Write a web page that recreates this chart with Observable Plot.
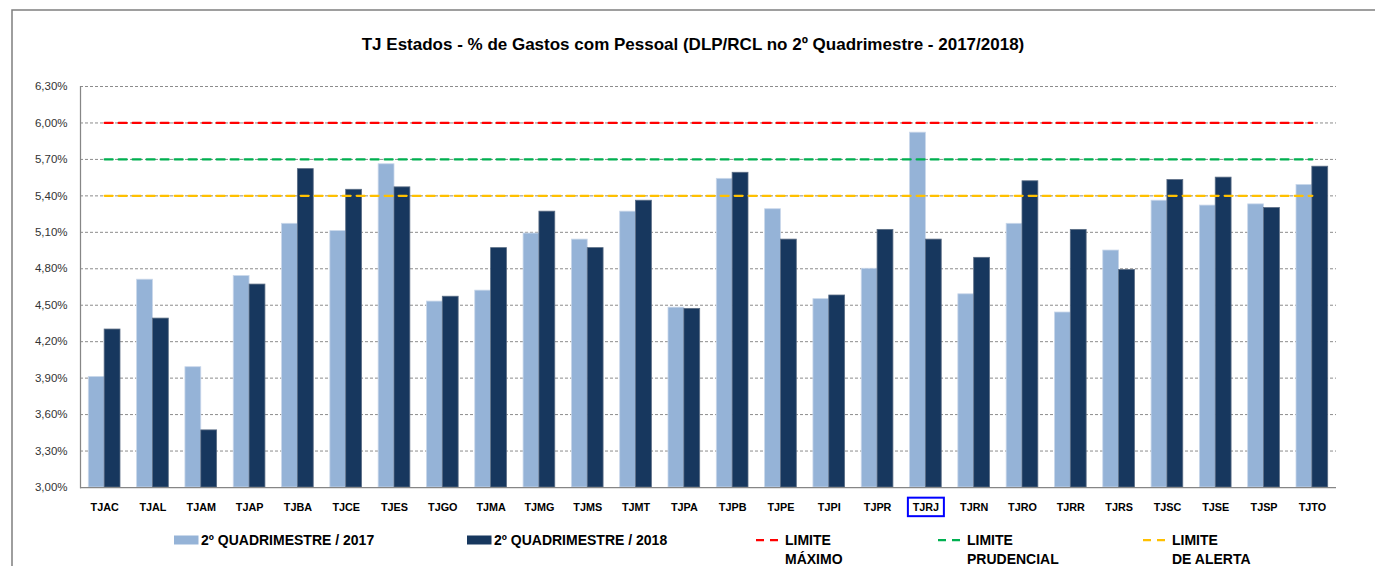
<!DOCTYPE html>
<html>
<head>
<meta charset="utf-8">
<script src="https://cdn.jsdelivr.net/npm/d3@7"></script>
<script src="https://cdn.jsdelivr.net/npm/@observablehq/plot@0.6"></script>
<style>
  body { margin: 0; background: #fff; }
  #wrap { position: relative; width: 1375px; height: 566px; overflow: hidden; background: #fff; }
  #chart { position: absolute; left: 0; top: 70px; }
  #overlay { position: absolute; left: 0; top: 0; pointer-events: none; }
</style>
</head>
<body>
<div id="wrap">
  <div id="chart"></div>
  <svg id="overlay" width="1375" height="566"></svg>
</div>
<script>
// ---------- DATA ----------
const titleText = "TJ Estados - % de Gastos com Pessoal (DLP/RCL no 2º Quadrimestre - 2017/2018)";
const categories = ["TJAC","TJAL","TJAM","TJAP","TJBA","TJCE","TJES","TJGO","TJMA","TJMG","TJMS","TJMT","TJPA",
                    "TJPB","TJPE","TJPI","TJPR","TJRJ","TJRN","TJRO","TJRR","TJRS","TJSC","TJSE","TJSP","TJTO"];
const values2017 = [3.91,4.71,3.99,4.74,5.17,5.11,5.66,4.53,4.62,5.09,5.04,5.27,4.48,
                    5.54,5.29,4.55,4.80,5.92,4.59,5.17,4.44,4.95,5.36,5.32,5.33,5.49];
const values2018 = [4.30,4.39,3.47,4.67,5.62,5.45,5.47,4.57,4.97,5.27,4.97,5.36,4.47,
                    5.59,5.04,4.58,5.12,5.04,4.89,5.52,5.12,4.79,5.53,5.55,5.30,5.64];
const seriesNames = ["2º QUADRIMESTRE / 2017", "2º QUADRIMESTRE / 2018"];
const limitNames = ["LIMITE MÁXIMO", "LIMITE PRUDENCIAL", "LIMITE DE ALERTA"];
const limitValues = [6.00, 5.70, 5.40];
const yTicks = [3.00, 3.30, 3.60, 3.90, 4.20, 4.50, 4.80, 5.10, 5.40, 5.70, 6.00, 6.30];
const highlighted = "TJRJ";

// ---------- STYLE ----------
const barColors = ["#95B3D7", "#17375E"];
const barStrokes = ["#c9d7ea", "#5b6d85"];
const limitColors = ["#FF0000", "#00B050", "#FFC000"];
const FONT = "'Liberation Sans', Arial, sans-serif";

const W = 1375, H = 450, ML = 80, MR = 39, MT = 16, MB = 33;
const bw = (W - ML - MR) / categories.length;
const outer = bw * 0.172, half = bw / 2;

const rows2017 = categories.map((c, i) => ({cat: c, series: seriesNames[0], value: values2017[i]}));
const rows2018 = categories.map((c, i) => ({cat: c, series: seriesNames[1], value: values2018[i]}));
const limitRows = limitNames.flatMap((n, j) => categories.map(c => ({cat: c, name: n, value: limitValues[j]})));

const fmt = d => d.toFixed(2).replace(".", ",") + "%";

const chart = Plot.plot({
  width: W, height: H,
  marginLeft: ML, marginRight: MR, marginTop: MT, marginBottom: MB,
  style: {fontFamily: FONT, background: "transparent", overflow: "visible"},
  x: {domain: categories, padding: 0, round: false, axis: null},
  y: {domain: [yTicks[0], yTicks[yTicks.length - 1]], axis: null},
  color: {domain: limitNames, range: limitColors},
  marks: [
    Plot.gridY(yTicks.slice(1), {stroke: "#8c8c8c", strokeOpacity: 1, strokeWidth: 1, strokeDasharray: "3,2"}),
    Plot.barY(rows2017, {x: "cat", y1: yTicks[0], y2: "value", fill: barColors[0],
      stroke: barStrokes[0], strokeWidth: 0.8, insetLeft: outer, insetRight: half}),
    Plot.barY(rows2018, {x: "cat", y1: yTicks[0], y2: "value", fill: barColors[1],
      stroke: barStrokes[1], strokeWidth: 0.8, insetLeft: half, insetRight: outer}),
    Plot.lineY(limitRows, {x: "cat", y: "value", z: "name", stroke: "name", strokeWidth: 2.25, strokeDasharray: "8,6"}),
    Plot.ruleY([yTicks[0]], {stroke: "#868686", strokeWidth: 1.25}),
    Plot.frame({anchor: "left", stroke: "#868686", strokeWidth: 1.25}),
    Plot.axisY(yTicks, {tickSize: 0, tickPadding: 13, tickFormat: fmt, fontSize: 11.5, fill: "#333", label: null}),
    Plot.axisX({tickSize: 0, tickPadding: 16, fontSize: 10.8, fontWeight: "bold", fill: "#000", label: null})
  ]
});
document.getElementById("chart").appendChild(chart);

// highlight box around selected category label
const svgRect = chart.getBoundingClientRect();
chart.querySelectorAll("text").forEach(t => {
  if (t.textContent === highlighted) {
    const r = t.getBoundingClientRect();
    const cx = r.left + r.width / 2 - svgRect.left;
    const cy = r.top + r.height / 2 - svgRect.top;
    d3.select(chart).append("rect")
      .attr("x", cx - 18).attr("y", cy - 9.5).attr("width", 36).attr("height", 18.5)
      .attr("fill", "none").attr("stroke", "#0000FF").attr("stroke-width", 2);
  }
});

// ---------- TITLE, FRAME & LEGEND ----------
const ov = d3.select("#overlay");
ov.append("path").attr("d", "M12,566V10H1375").attr("fill", "none").attr("stroke", "#7f7f7f").attr("stroke-width", 1.5);
ov.append("text").attr("x", 693).attr("y", 50).attr("text-anchor", "middle")
  .attr("font-family", FONT).attr("font-weight", "bold").attr("font-size", 17).attr("fill", "#000")
  .text(titleText);

const legendX = [174, 467, 756, 938, 1143];
const legendItems = [
  ...seriesNames.map((n, i) => ({kind: "bar", label: [n], color: barColors[i]})),
  ...limitNames.map((n, i) => {
    const k = n.indexOf(" ");
    return {kind: "line", label: [n.slice(0, k), n.slice(k + 1)], color: limitColors[i]};
  })
];
legendItems.forEach((it, i) => {
  const g = ov.append("g").attr("transform", `translate(${legendX[i]},0)`);
  if (it.kind === "bar") {
    g.append("rect").attr("x", 0).attr("y", 535.5).attr("width", 24.5).attr("height", 9).attr("fill", it.color);
  } else {
    g.append("line").attr("x1", 0).attr("x2", 22).attr("y1", 540).attr("y2", 540)
      .attr("stroke", it.color).attr("stroke-width", 2.25).attr("stroke-dasharray", "8,6");
  }
  const tx = it.kind === "bar" ? 27 : 29;
  it.label.forEach((line, j) => {
    g.append("text").attr("x", tx).attr("y", 545 + j * 18.5)
      .attr("font-family", FONT).attr("font-weight", "bold").attr("font-size", 14).attr("fill", "#000")
      .text(line);
  });
});
</script>
</body>
</html>
